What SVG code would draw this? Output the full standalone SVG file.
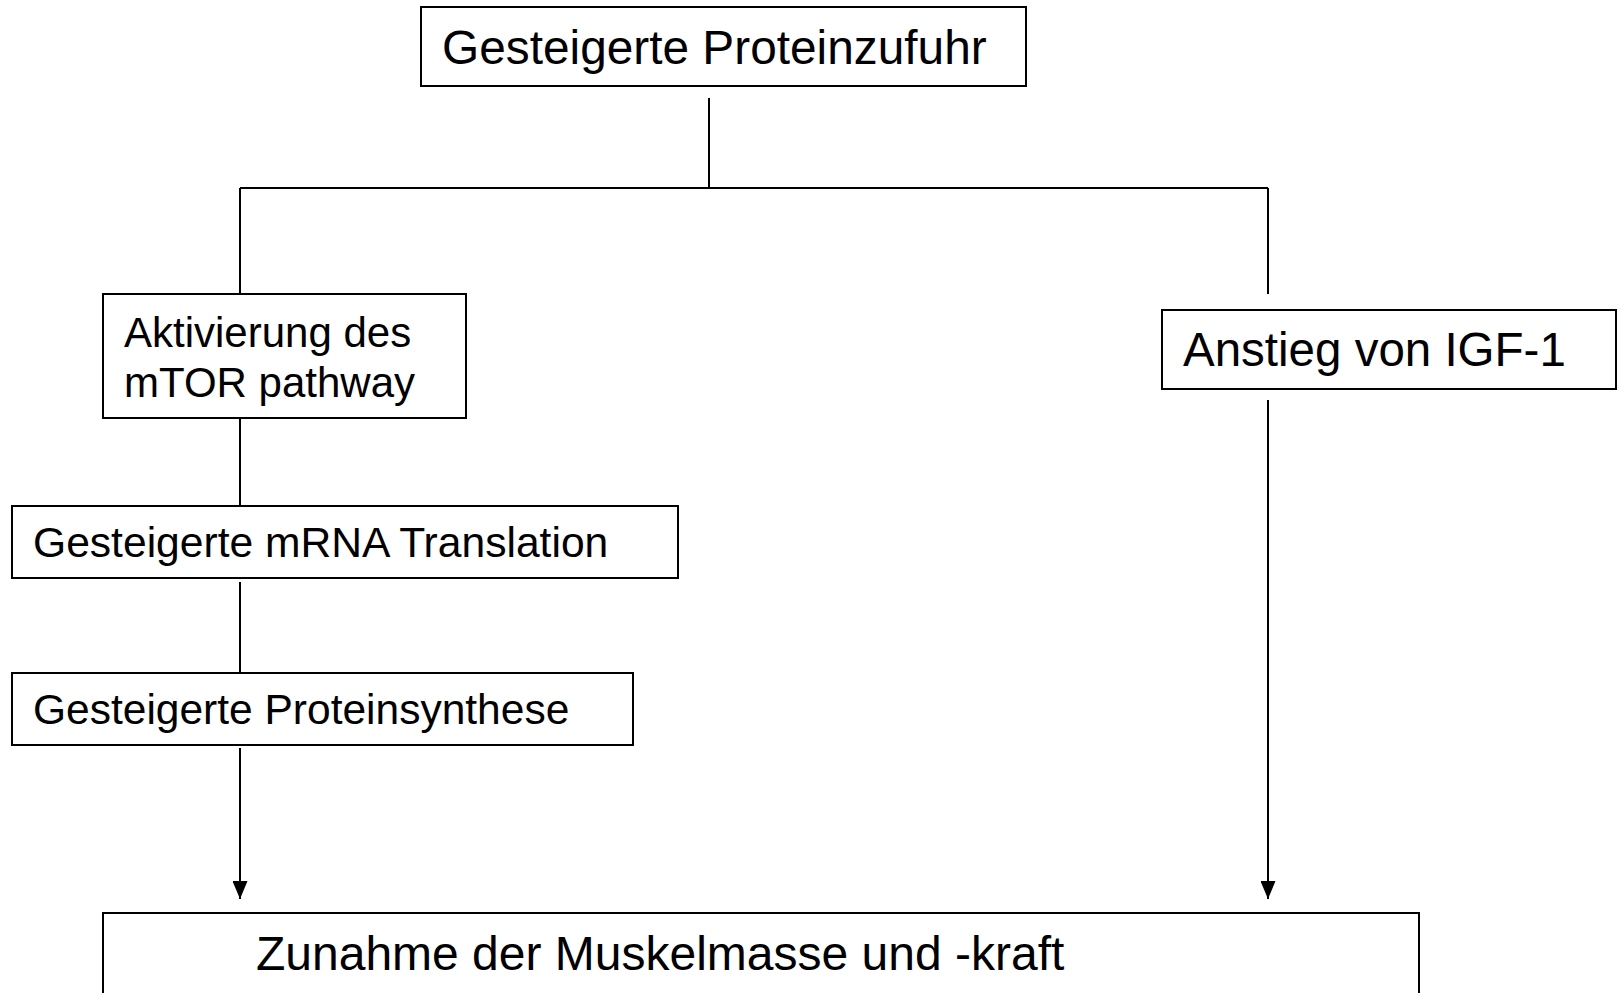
<svg xmlns="http://www.w3.org/2000/svg" width="1618" height="993" viewBox="0 0 1618 993">
<style>
.box{fill:#fff;stroke:#000;stroke-width:2}
.t{font-family:"Liberation Sans",Arial,sans-serif;fill:#000}
.ln{fill:none;stroke:#000;stroke-width:2}
</style>
<defs>
<marker id="ah" markerUnits="userSpaceOnUse" markerWidth="18" markerHeight="15" refX="18" refY="7.5" orient="auto" viewBox="0 0 18 15">
<path d="M0,0 L18,7.5 L0,15 Z" fill="#000"/>
</marker>
</defs>
<rect width="1618" height="993" fill="#fff"/>
<g id="connectors">
<path class="ln" d="M709,98 V188"/>
<path class="ln" d="M240,188 H1268"/>
<path class="ln" d="M240,188 V294"/>
<path class="ln" d="M1268,188 V294"/>
<path class="ln" d="M240,418 V506"/>
<path class="ln" d="M240,582 V673"/>
<path class="ln" d="M240,748 V899" marker-end="url(#ah)"/>
<path class="ln" d="M1268,400 V899" marker-end="url(#ah)"/>
</g>
<g id="n-protein">
<rect class="box" x="421" y="7" width="605" height="79"/>
<text class="t" x="442" y="64" font-size="47.8">Gesteigerte Proteinzufuhr</text>
</g>
<g id="n-mtor">
<rect class="box" x="103" y="294" width="363" height="124"/>
<text class="t" x="124" y="347" font-size="42">Aktivierung des</text>
<text class="t" x="124" y="397" font-size="42">mTOR pathway</text>
</g>
<g id="n-mrna">
<rect class="box" x="12" y="506" width="666" height="72"/>
<text class="t" x="33" y="557" font-size="42.6">Gesteigerte mRNA Translation</text>
</g>
<g id="n-synth">
<rect class="box" x="12" y="673" width="621" height="72"/>
<text class="t" x="33" y="724" font-size="42.5">Gesteigerte Proteinsynthese</text>
</g>
<g id="n-igf">
<rect class="box" x="1162" y="310" width="454" height="79"/>
<text class="t" x="1183" y="366" font-size="47.5">Anstieg von IGF-1</text>
</g>
<g id="n-muskel">
<rect class="box" x="103" y="913" width="1316" height="90"/>
<text class="t" x="256" y="970" font-size="48">Zunahme der Muskelmasse und -kraft</text>
</g>
</svg>
